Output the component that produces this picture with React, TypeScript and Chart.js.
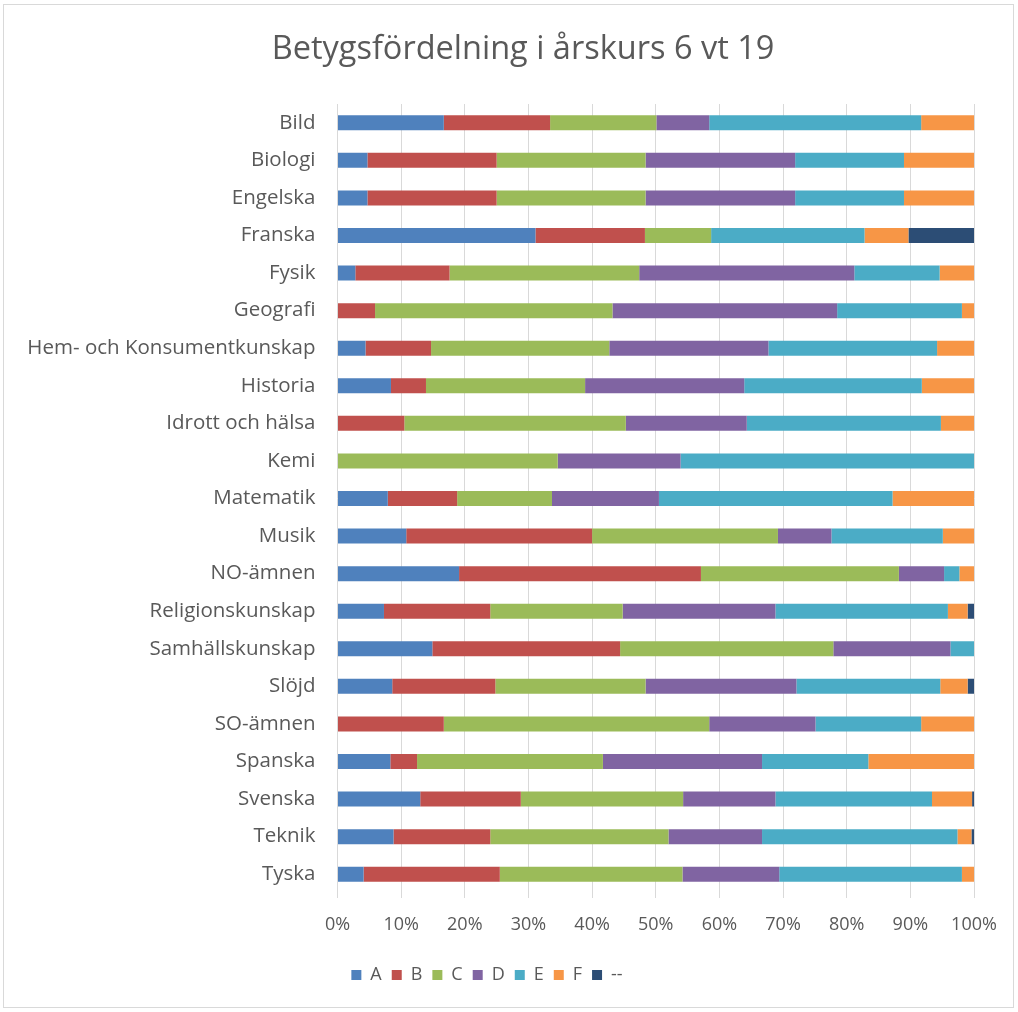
import React, { useEffect, useRef } from "react";
import { Chart, registerables } from "chart.js";

Chart.register(...registerables);

const categories = [
  "Bild", "Biologi", "Engelska", "Franska", "Fysik", "Geografi",
  "Hem- och Konsumentkunskap", "Historia", "Idrott och hälsa", "Kemi",
  "Matematik", "Musik", "NO-ämnen", "Religionskunskap", "Samhällskunskap",
  "Slöjd", "SO-ämnen", "Spanska", "Svenska", "Teknik", "Tyska",
];

const gradeA = [16.7, 4.7, 4.7, 31.1, 2.8, 0, 4.4, 8.4, 0, 0, 7.9, 10.8, 19.1, 7.3, 14.9, 8.6, 0, 8.3, 13.0, 8.8, 4.1];
const gradeB = [16.7, 20.3, 20.3, 17.2, 14.8, 5.9, 10.3, 5.5, 10.5, 0, 10.9, 29.2, 38.0, 16.7, 29.5, 16.2, 16.7, 4.2, 15.8, 15.2, 21.4];
const gradeC = [16.7, 23.4, 23.4, 10.4, 29.8, 37.3, 28.0, 25.0, 34.8, 34.6, 14.9, 29.2, 31.1, 20.8, 33.5, 23.6, 41.7, 29.2, 25.5, 28.0, 28.7];
const gradeD = [8.3, 23.5, 23.5, 0, 33.8, 35.3, 25.0, 25.0, 19.0, 19.3, 16.8, 8.4, 7.1, 24.0, 18.4, 23.7, 16.7, 25.0, 14.5, 14.7, 15.2];
const gradeE = [33.3, 17.1, 17.1, 24.1, 13.4, 19.6, 26.5, 27.9, 30.5, 46.1, 36.7, 17.5, 2.4, 27.1, 3.7, 22.6, 16.6, 16.7, 24.6, 30.7, 28.7];
const gradeF = [8.3, 11.0, 11.0, 6.9, 5.4, 1.9, 5.8, 8.2, 5.2, 0, 12.8, 4.9, 2.3, 3.1, 0, 4.3, 8.3, 16.6, 6.3, 2.2, 1.9];
const gradeNone = [0, 0, 0, 10.3, 0, 0, 0, 0, 0, 0, 0, 0, 0, 1.0, 0, 1.0, 0, 0, 0.3, 0.4, 0];

const seriesNames = ["A", "B", "C", "D", "E", "F", "--"];
const seriesColors = ["#4F81BD", "#C0504D", "#9BBB59", "#8064A2", "#4BACC6", "#F79646", "#2C4D75"];
const seriesValues = [gradeA, gradeB, gradeC, gradeD, gradeE, gradeF, gradeNone];

const xTicks = [0, 10, 20, 30, 40, 50, 60, 70, 80, 90, 100];

const titleText = "Betygsfördelning i årskurs 6 vt 19";

const FONT = "'Open Sans'";
const TEXT = "#595959";

const frame = {
  id: "frame",
  beforeDraw(chart: any) {
    const ctx = chart.ctx;
    ctx.save();
    ctx.fillStyle = "#ffffff";
    ctx.fillRect(0, 0, chart.width, chart.height);
    ctx.strokeStyle = "#d9d9d9";
    ctx.lineWidth = 1;
    ctx.strokeRect(3.5, 4.5, 1010, 1003);
    ctx.restore();
  },
  afterDraw(chart: any) {
    const ctx = chart.ctx;
    ctx.save();
    ctx.fillStyle = TEXT;
    ctx.font = "32.5px " + FONT;
    ctx.textAlign = "center";
    ctx.textBaseline = "alphabetic";
    ctx.fillText(titleText, 523, 59);
    ctx.restore();
  },
};

export default function App() {
  const ref = useRef<HTMLCanvasElement | null>(null);
  useEffect(() => {
    if (!ref.current) return;
    const chart = new Chart(ref.current, {
      type: "bar",
      data: {
        labels: categories,
        datasets: seriesNames.map((n, i) => ({
          label: n,
          data: seriesValues[i],
          backgroundColor: seriesColors[i],
          borderWidth: 0,
          barPercentage: 0.8,
          categoryPercentage: 0.5,
        })),
      },
      options: {
        indexAxis: "y",
        responsive: false,
        animation: false,
        devicePixelRatio: 1,
        layout: { padding: { left: 0, right: 44, top: 104, bottom: 18 } },
        plugins: {
          title: { display: false },
          legend: {
            position: "bottom",
            labels: {
              color: TEXT,
              font: { family: FONT, size: 18 },
              boxWidth: 10,
              boxHeight: 10,
              padding: 10,
            },
          },
          tooltip: { enabled: false },
        },
        scales: {
          x: {
            stacked: true,
            min: 0,
            max: 100,
            afterBuildTicks: (s: any) => {
              s.ticks = xTicks.map((v) => ({ value: v }));
            },
            afterFit: (s: any) => {
              s.height = 63;
            },
            ticks: {
              color: TEXT,
              font: { family: FONT, size: 18 },
              padding: 16,
              callback: (v: any) => v + "%",
            },
            grid: { color: "#d9d9d9", lineWidth: 1, tickLength: 5 },
            border: { display: false },
          },
          y: {
            stacked: true,
            afterFit: (s: any) => {
              s.width = 337.5;
            },
            ticks: {
              color: TEXT,
              font: { family: FONT, size: 20.5 },
              padding: 22,
              autoSkip: false,
            },
            grid: { display: false, drawTicks: false },
            border: { display: false },
          },
        },
      },
      plugins: [frame],
    });
    return () => chart.destroy();
  }, []);
  return (
    <div style={{ position: "absolute", left: 0, top: 0, width: 1018, height: 1012 }}>
      <canvas ref={ref} width={1018} height={1012} />
    </div>
  );
}
